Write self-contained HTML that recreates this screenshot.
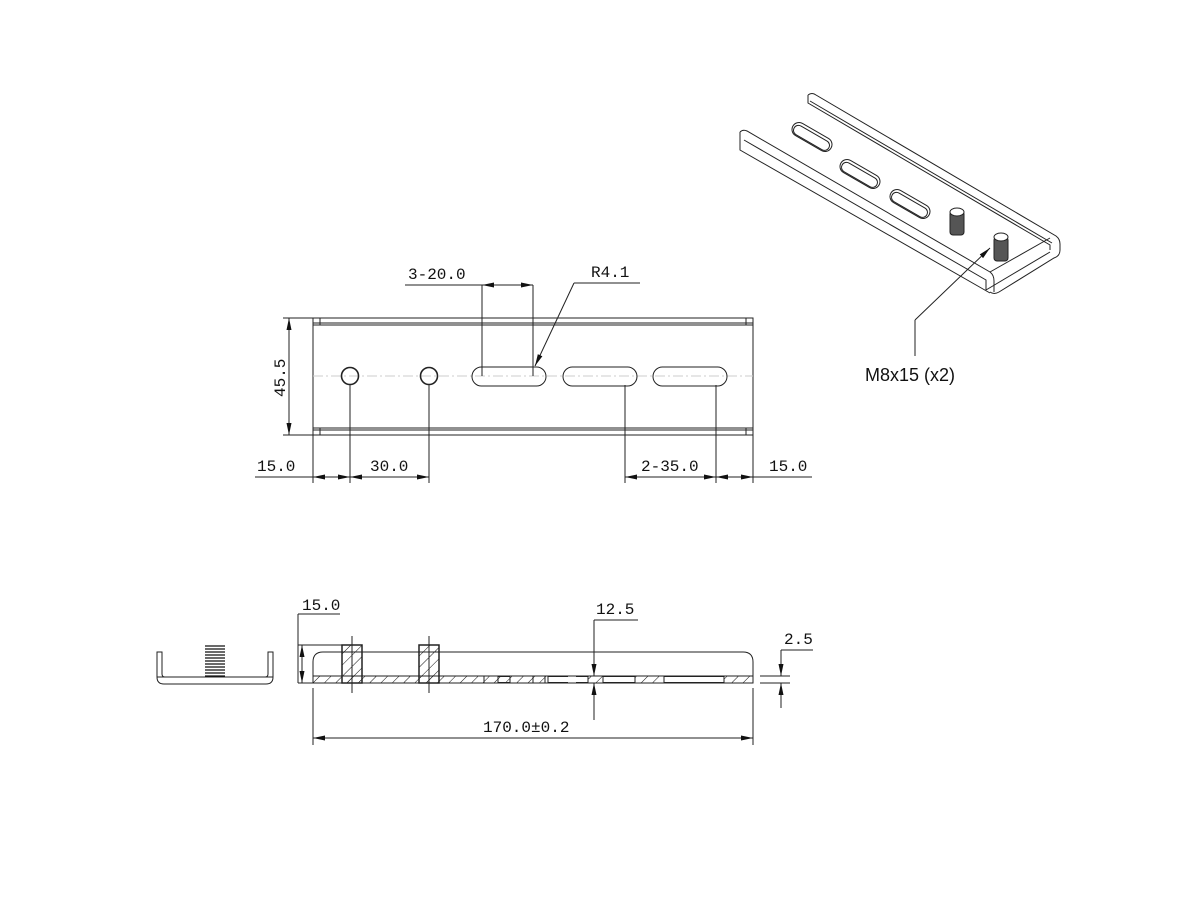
<!DOCTYPE html>
<html><head><style>
html,body{margin:0;padding:0;background:#fff;}
svg{display:block}
text{font-family:"Liberation Mono","DejaVu Sans Mono",monospace;font-size:16px;fill:#111}
</style></head><body>
<svg width="1200" height="900" viewBox="0 0 1200 900" xmlns="http://www.w3.org/2000/svg">
<defs>
<marker id="a" markerWidth="12" markerHeight="6" refX="12" refY="3" orient="auto" markerUnits="userSpaceOnUse"><path d="M0,0.5 L12,3 L0,5.5 Z" fill="#111"/></marker>
<marker id="b" markerWidth="12" markerHeight="6" refX="0" refY="3" orient="auto" markerUnits="userSpaceOnUse"><path d="M12,0.5 L0,3 L12,5.5 Z" fill="#111"/></marker>
<pattern id="h" width="8" height="8" patternUnits="userSpaceOnUse" patternTransform="rotate(45)"><line x1="0" y1="0" x2="0" y2="8" stroke="#111" stroke-width="1"/></pattern>
</defs>
<g stroke="#222" fill="none" stroke-width="1">
<!-- TOP VIEW -->
<rect x="313" y="318" width="440" height="117"/>
<line x1="313" y1="323" x2="753" y2="323"/><line x1="313" y1="325" x2="753" y2="325"/>
<line x1="313" y1="428" x2="753" y2="428"/><line x1="313" y1="430" x2="753" y2="430"/>
<line x1="320" y1="318" x2="320" y2="325"/><line x1="746" y1="318" x2="746" y2="325"/>
<line x1="320" y1="428" x2="320" y2="435"/><line x1="746" y1="428" x2="746" y2="435"/>
<line x1="313" y1="376" x2="753" y2="376" stroke="#ccc" stroke-dasharray="10,3,2,3"/>
<circle cx="350" cy="376" r="8.5" stroke-width="1.6"/>
<circle cx="429" cy="376" r="8.5" stroke-width="1.6"/>
<rect x="472" y="367" width="74" height="19" rx="9.5"/>
<rect x="563" y="367" width="74" height="19" rx="9.5"/>
<rect x="653" y="367" width="74" height="19" rx="9.5"/>
<!-- dims top -->
<line x1="313" y1="318" x2="283" y2="318"/><line x1="313" y1="435" x2="283" y2="435"/>
<line x1="289" y1="318" x2="289" y2="435" marker-start="url(#b)" marker-end="url(#a)"/>
<line x1="405" y1="285" x2="532" y2="285"/>
<line x1="482" y1="285" x2="482" y2="376"/><line x1="533" y1="285" x2="533" y2="376"/>
<line x1="482" y1="285" x2="533" y2="285" marker-start="url(#b)" marker-end="url(#a)"/>
<line x1="640" y1="283" x2="574" y2="283"/><line x1="574" y1="283" x2="535" y2="366" marker-end="url(#a)"/>
<line x1="313" y1="435" x2="313" y2="483"/><line x1="350" y1="385" x2="350" y2="483"/>
<line x1="429" y1="385" x2="429" y2="483"/>
<line x1="625" y1="385" x2="625" y2="483"/><line x1="716" y1="385" x2="716" y2="483"/>
<line x1="753" y1="435" x2="753" y2="483"/>
<line x1="255" y1="477" x2="313" y2="477"/>
<line x1="313" y1="477" x2="350" y2="477" marker-start="url(#b)" marker-end="url(#a)"/>
<line x1="350" y1="477" x2="429" y2="477" marker-start="url(#b)" marker-end="url(#a)"/>
<line x1="625" y1="477" x2="716" y2="477" marker-start="url(#b)" marker-end="url(#a)"/>
<line x1="716" y1="477" x2="753" y2="477" marker-start="url(#b)" marker-end="url(#a)"/>
<line x1="753" y1="477" x2="812" y2="477"/>
<!-- SIDE VIEW -->
<path d="M313,683 L313,662 Q313,652 323,652 L743,652 Q753,652 753,662 L753,683 Z"/>
<rect x="313" y="676" width="440" height="7" fill="url(#h)"/>
<line x1="313" y1="676" x2="753" y2="676"/>
<g fill="#fff">
<rect x="548" y="676.5" width="40" height="6"/><rect x="498" y="676.5" width="12" height="6" fill="none"/>
<rect x="603" y="676.5" width="32" height="6"/><rect x="664" y="676.5" width="60" height="6"/>
<rect x="568" y="676.5" width="8" height="6" stroke="none"/>
</g>
<line x1="484" y1="676" x2="484" y2="683"/><line x1="533" y1="676" x2="533" y2="683"/><line x1="545" y1="676" x2="545" y2="683"/>
<line x1="635" y1="676" x2="635" y2="683"/><line x1="724" y1="676" x2="724" y2="683"/>
<rect x="342" y="645" width="20" height="38" fill="url(#h)" stroke-width="1.5"/>
<rect x="419" y="645" width="20" height="38" fill="url(#h)" stroke-width="1.5"/>
<line x1="352" y1="636" x2="352" y2="693"/><line x1="429" y1="636" x2="429" y2="693"/>
<!-- side dims -->
<line x1="298" y1="645" x2="342" y2="645"/><line x1="298" y1="683" x2="313" y2="683"/>
<line x1="298" y1="614" x2="340" y2="614"/><line x1="298" y1="614" x2="298" y2="683"/>
<line x1="302" y1="645" x2="302" y2="683" marker-start="url(#b)" marker-end="url(#a)"/>
<line x1="594" y1="620" x2="638" y2="620"/>
<line x1="594" y1="620" x2="594" y2="676" marker-end="url(#a)"/>
<line x1="594" y1="720" x2="594" y2="683" marker-end="url(#a)"/>
<line x1="760" y1="676" x2="790" y2="676"/><line x1="760" y1="683" x2="790" y2="683"/>
<line x1="781" y1="650" x2="813" y2="650"/>
<line x1="781" y1="650" x2="781" y2="676" marker-end="url(#a)"/>
<line x1="781" y1="708" x2="781" y2="683" marker-end="url(#a)"/>
<line x1="313" y1="688" x2="313" y2="745"/><line x1="753" y1="688" x2="753" y2="745"/>
<line x1="313" y1="738" x2="753" y2="738" marker-start="url(#b)" marker-end="url(#a)"/>
<!-- END VIEW -->
<path d="M157,652 L157,677 Q157,684 164,684 L266,684 Q273,684 273,677 L273,652 L268,652 L268,674 Q268,677 265,677 L165,677 Q162,677 162,674 L162,652 Z"/>
<line x1="157" y1="677" x2="273" y2="677"/>
<g stroke="#111" stroke-width="1.2">
<line x1="205" y1="646" x2="225" y2="646"/><line x1="205" y1="649" x2="225" y2="649"/><line x1="205" y1="652" x2="225" y2="652"/><line x1="205" y1="655" x2="225" y2="655"/><line x1="205" y1="658" x2="225" y2="658"/><line x1="205" y1="661" x2="225" y2="661"/><line x1="205" y1="664" x2="225" y2="664"/><line x1="205" y1="667" x2="225" y2="667"/><line x1="205" y1="670" x2="225" y2="670"/><line x1="205" y1="673" x2="225" y2="673"/><line x1="205" y1="676" x2="225" y2="676"/>
</g>
<!-- ISO VIEW -->
<path d="M808,95 Q812,92 816,95 L1056,236 Q1060,239 1060,244 L1060,250 Q1060,256 1054,258 L999,292 Q994,295 990,292"/>
<path d="M808,95 L808,103 L1050,245 L1050,250"/>
<path d="M810,101 L1052,243"/>
<path d="M740,132 Q743,129 747,131 L990,272 Q994,275 994,281 L994,292"/>
<path d="M740,132 L740,150 L990,293"/>
<path d="M744,140 L986,280 L986,290"/>
<path d="M986,290 L1050,252"/>
<path d="M990,272 L1050,238"/>
<rect x="790" y="130" width="44" height="14" rx="7" transform="rotate(30 812 137)"/>
<rect x="792" y="133" width="40" height="10" rx="5" transform="rotate(30 812 137)"/>
<rect x="838" y="167" width="44" height="14" rx="7" transform="rotate(30 860 174)"/>
<rect x="840" y="170" width="40" height="10" rx="5" transform="rotate(30 860 174)"/>
<rect x="888" y="197" width="44" height="14" rx="7" transform="rotate(30 910 204)"/>
<rect x="890" y="200" width="40" height="10" rx="5" transform="rotate(30 910 204)"/>
<rect x="950" y="211" width="14" height="24" rx="3" fill="#555"/>
<ellipse cx="957" cy="212" rx="7" ry="4" fill="#fff"/>
<rect x="994" y="237" width="14" height="24" rx="3" fill="#555"/>
<ellipse cx="1001" cy="237" rx="7" ry="4" fill="#fff"/>
<line x1="915" y1="356" x2="915" y2="320"/>
<line x1="915" y1="320" x2="990" y2="248" marker-end="url(#a)"/>
</g>
<!-- TEXT -->
<text x="408" y="279">3-20.0</text>
<text x="591" y="277">R4.1</text>
<text x="0" y="0" transform="translate(285,397) rotate(-90)">45.5</text>
<text x="257" y="471">15.0</text>
<text x="370" y="471">30.0</text>
<text x="641" y="471">2-35.0</text>
<text x="769" y="471">15.0</text>
<text x="302" y="610">15.0</text>
<text x="596" y="614">12.5</text>
<text x="784" y="644">2.5</text>
<text x="483" y="732">170.0±0.2</text>
<text x="865" y="381" style="font-family:'Liberation Sans',sans-serif;font-size:18px">M8x15 (x2)</text>
</svg>
</body></html>
